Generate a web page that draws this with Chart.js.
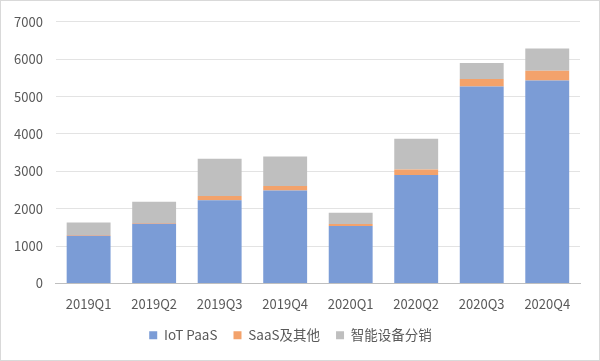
<!DOCTYPE html>
<html>
<head>
<meta charset="utf-8">
<script src="https://cdn.jsdelivr.net/npm/chart.js@4/dist/chart.umd.min.js"></script>
<style>
  html, body { margin: 0; padding: 0; background: #fff; }
  #wrap { position: relative; width: 598px; height: 359px; border: 1px solid #d9d9d9; }
</style>
</head>
<body>
<div id="wrap"><canvas id="chart" width="598" height="359"></canvas></div>
<script>
// quarters and revenue by segment
const quarters = ['2019Q1', '2019Q2', '2019Q3', '2019Q4', '2020Q1', '2020Q2', '2020Q3', '2020Q4'];
const iotPaas = [1280, 1600, 2230, 2490, 1540, 2900, 5270, 5430];
const saasOther = [15, 15, 110, 120, 50, 150, 200, 260];
const deviceSales = [335, 575, 1000, 790, 300, 825, 425, 595];
const yTicks = [0, 1000, 2000, 3000, 4000, 5000, 6000, 7000];

const textColor = '#595959';
const font = { family: '"Noto Sans CJK SC", "Noto Sans", sans-serif', size: 13 };

new Chart(document.getElementById('chart').getContext('2d'), {
    type: 'bar',
    data: {
        labels: quarters,
        datasets: [
            { label: 'IoT PaaS', data: iotPaas, backgroundColor: '#7b9cd6' },
            { label: 'SaaS及其他', data: saasOther, backgroundColor: '#f3a26b' },
            { label: '智能设备分销', data: deviceSales, backgroundColor: '#bfbfbf' }
        ]
    },
    options: {
        responsive: false,
        animation: false,
        layout: { padding: { left: 0, right: 19, top: 10, bottom: 8 } },
        datasets: { bar: { barPercentage: 1, categoryPercentage: 0.67 } },
        scales: {
            x: {
                stacked: true,
                grid: { display: false, drawTicks: false },
                border: { color: '#bfbfbf' },
                ticks: { color: textColor, font: font, padding: 13 },
                afterFit: s => { s.height = 29; } // padding only once above the labels
            },
            y: {
                stacked: true,
                min: 0,
                max: yTicks[yTicks.length - 1],
                afterBuildTicks: axis => { axis.ticks = yTicks.map(v => ({ value: v })); },
                grid: { color: '#e3e3e3', drawTicks: false },
                border: { display: false },
                ticks: { color: textColor, font: font, padding: 13, callback: v => String(v) }
            }
        },
        plugins: {
            legend: {
                position: 'bottom',
                labels: { color: textColor, font: { family: font.family, size: 13.5 }, boxWidth: 8, boxHeight: 8, padding: 16 }
            },
            tooltip: { enabled: false }
        }
    }
});
</script>
</body>
</html>
